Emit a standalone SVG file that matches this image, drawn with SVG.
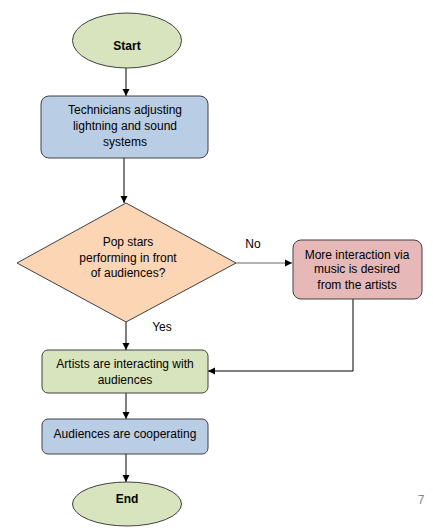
<svg xmlns="http://www.w3.org/2000/svg" width="433" height="531" viewBox="0 0 433 531">
<style>
.shape{stroke:#404040;stroke-width:1}
.t{font-family:"Liberation Sans",Arial,sans-serif;font-size:12px;fill:#000;text-anchor:middle}
.b{font-weight:bold}
.c{fill:none;stroke:#000;stroke-width:1}
.g{stroke:#666}
.green{fill:#d7e4bd}
.blue{fill:#b9cde5}
.peach{fill:#fcd5b5}
.pink{fill:#e6b9b8}
</style>
<defs>
<marker id="ah" markerWidth="8" markerHeight="8" refX="7" refY="4" orient="auto" markerUnits="userSpaceOnUse">
<path d="M0,0.5 L7,4 L0,7.5 Z" fill="#000"/>
</marker>
</defs>
<rect width="433" height="531" fill="#fff"/>
<g id="connectors">
<line class="c" x1="126" y1="68" x2="126" y2="96" marker-end="url(#ah)"/>
<line class="c" x1="124" y1="158" x2="124" y2="203" marker-end="url(#ah)"/>
<line class="c g" x1="236" y1="263" x2="292" y2="263" marker-end="url(#ah)"/>
<line class="c" x1="126" y1="322" x2="126" y2="350" marker-end="url(#ah)"/>
<polyline class="c" points="353,299 353,371 208,371" marker-end="url(#ah)"/>
<line class="c" x1="126" y1="393" x2="126" y2="419" marker-end="url(#ah)"/>
<line class="c" x1="126" y1="454" x2="126" y2="482" marker-end="url(#ah)"/>
</g>
<g id="start">
<ellipse class="shape green" cx="127" cy="40.5" rx="54.5" ry="27.5"/>
<text class="t b" x="127" y="50">Start</text>
</g>
<g id="technicians">
<rect class="shape blue" x="41" y="96" width="167" height="62" rx="8"/>
<text class="t" x="125" y="114">Technicians adjusting</text>
<text class="t" x="125" y="130">lightning and sound</text>
<text class="t" x="125" y="146">systems</text>
</g>
<g id="decision">
<polygon class="shape peach" points="126,203 236,263 126,322 17,263"/>
<text class="t" x="128" y="246">Pop stars</text>
<text class="t" x="128" y="261.5">performing in front</text>
<text class="t" x="128" y="277">of audiences?</text>
</g>
<g id="more">
<rect class="shape pink" x="293" y="240" width="129" height="59" rx="8"/>
<text class="t" x="357" y="258.5">More interaction via</text>
<text class="t" x="357" y="273">music is desired</text>
<text class="t" x="357" y="289">from the artists</text>
</g>
<g id="artists">
<rect class="shape green" x="42" y="350" width="166" height="43" rx="6"/>
<text class="t" x="125" y="368">Artists are interacting with</text>
<text class="t" x="125" y="383.5">audiences</text>
</g>
<g id="audiences">
<rect class="shape blue" x="42" y="419" width="166" height="35" rx="6"/>
<text class="t" x="125" y="437.5">Audiences are cooperating</text>
</g>
<g id="end">
<ellipse class="shape green" cx="127" cy="504" rx="54.5" ry="22"/>
<text class="t b" x="127" y="502.5">End</text>
</g>
<text class="t" x="253" y="247.5" style="text-anchor:middle">No</text>
<text class="t" x="162" y="331">Yes</text>
<text class="t" x="421" y="504" style="fill:#888">7</text>
</svg>
